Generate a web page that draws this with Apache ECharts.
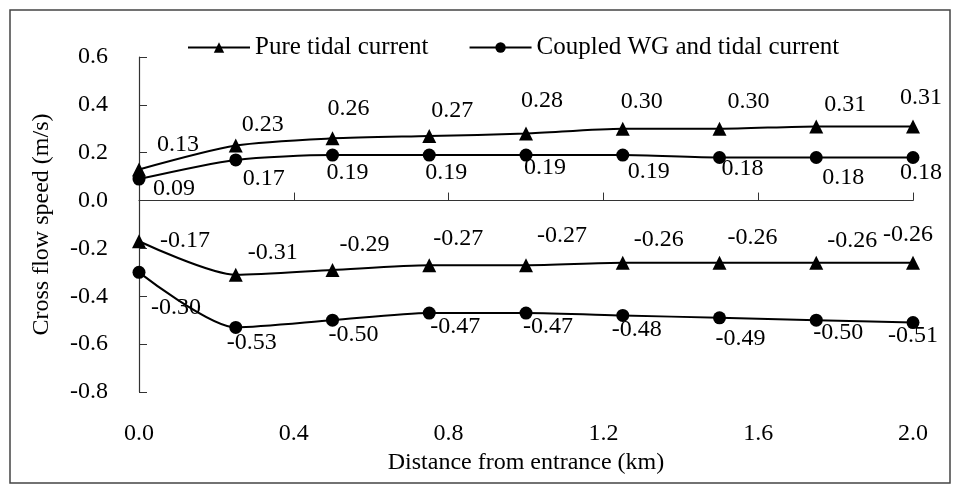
<!DOCTYPE html>
<html>
<head>
<meta charset="utf-8">
<script src="https://cdn.jsdelivr.net/npm/echarts@6/dist/echarts.min.js"></script>
<style>
html,body{margin:0;padding:0;background:#fff;}
#chart{width:954px;height:487px;}
</style>
</head>
<body>
<div id="chart"></div>
<script>
// ---- data ----
const distance = [0, 0.25, 0.5, 0.75, 1.0, 1.25, 1.5, 1.75, 2.0];
const pureTidalPos = [0.13, 0.23, 0.26, 0.27, 0.28, 0.30, 0.30, 0.31, 0.31];
const coupledPos   = [0.09, 0.17, 0.19, 0.19, 0.19, 0.19, 0.18, 0.18, 0.18];
const pureTidalNeg = [-0.17, -0.31, -0.29, -0.27, -0.27, -0.26, -0.26, -0.26, -0.26];
const coupledNeg   = [-0.30, -0.53, -0.50, -0.47, -0.47, -0.48, -0.49, -0.50, -0.51];
const seriesNames = ['Pure tidal current', 'Coupled WG and tidal current'];
const xTitle = 'Distance from entrance (km)';
const yTitle = 'Cross flow speed (m/s)';

// ---- label placement (layout only) ----
const offPurePos = [[39,-25],[27,-21],[16,-30],[23,-25],[16,-33],[19,-27],[29,-27],[29,-22],[8,-29]];
const offCoupPos = [[35,10],[28,19],[15,18],[17,18],[19,13],[26,17],[23,11],[27,20],[8,15]];
const offPureNeg = [[46,-1],[37,-22],[32,-25],[29,-26],[36,-29],[36,-23],[33,-25],[36,-22],[-5,-28]];
const offCoupNeg = [[37,35],[16,15],[21,14],[26,14],[22,14],[14,14],[21,21],[22,12],[0,13]];

const FONT = '"Liberation Serif", "Times New Roman", serif';

function mk(name, vals, offs, symbol, size) {
  return {
    name: name,
    type: 'line',
    smooth: 0.25,
    symbol: symbol,
    symbolSize: size,
    lineStyle: { color: '#000', width: 2 },
    itemStyle: { color: '#000' },
    label: {
      show: true,
      position: 'inside',
      color: '#000',
      fontFamily: FONT,
      fontSize: 24,
      formatter: p => p.value[1].toFixed(2)
    },
    emphasis: { disabled: true },
    data: distance.map((d, i) => ({ value: [d, vals[i]], label: { offset: offs[i] } }))
  };
}

const chart = echarts.init(document.getElementById('chart'), null, { renderer: 'canvas' });
chart.setOption({
  animation: false,
  backgroundColor: '#fff',
  textStyle: { fontFamily: FONT },
  graphic: [{
    type: 'rect',
    shape: { x: 10, y: 10, width: 940, height: 473 },
    style: { fill: 'none', stroke: '#444', lineWidth: 1.5 },
    silent: true
  }],
  legend: {
    top: 30,
    left: 182,
    itemWidth: 62,
    itemHeight: 13,
    itemGap: 40,
    data: seriesNames,
    textStyle: { fontFamily: FONT, fontSize: 25, color: '#000' }
  },
  grid: { left: 139, right: 41, top: 57, bottom: 95, containLabel: false, outerBoundsMode: 'none' },
  xAxis: {
    type: 'value',
    min: 0, max: 2, interval: 0.4,
    name: xTitle,
    nameLocation: 'middle',
    nameGap: 59,
    nameTextStyle: { fontFamily: FONT, fontSize: 24, color: '#000', verticalAlign: 'top' },
    axisLine: { show: true, lineStyle: { color: '#333', width: 1.2 } },
    axisTick: { show: true, inside: true, length: 8, lineStyle: { color: '#333' } },
    axisLabel: { fontFamily: FONT, fontSize: 24, color: '#000', margin: 30, formatter: v => v.toFixed(1) },
    splitLine: { show: false }
  },
  yAxis: {
    type: 'value',
    min: -0.8, max: 0.6, interval: 0.2,
    name: yTitle,
    nameLocation: 'middle',
    nameGap: 85,
    nameTextStyle: { fontFamily: FONT, fontSize: 24, color: '#000' },
    axisLine: { show: true, lineStyle: { color: '#333', width: 1.2 } },
    axisTick: { show: true, inside: true, length: 8, lineStyle: { color: '#333' } },
    axisLabel: { fontFamily: FONT, fontSize: 24, color: '#000', margin: 31, formatter: v => v.toFixed(1) },
    splitLine: { show: false }
  },
  series: [
    mk(seriesNames[0], pureTidalPos, offPurePos, 'triangle', 14),
    mk(seriesNames[1], coupledPos, offCoupPos, 'circle', 13),
    mk(seriesNames[0], pureTidalNeg, offPureNeg, 'triangle', 14),
    mk(seriesNames[1], coupledNeg, offCoupNeg, 'circle', 13)
  ]
});
</script>
</body>
</html>
